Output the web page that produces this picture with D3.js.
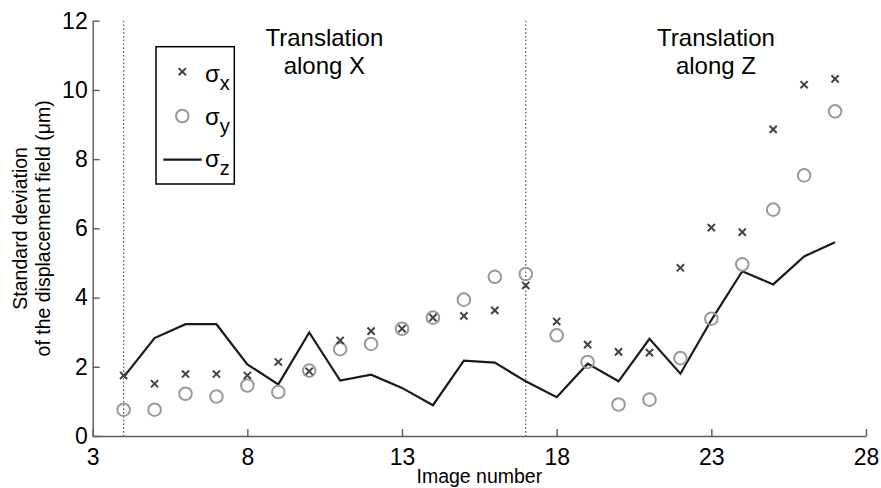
<!DOCTYPE html>
<html>
<head>
<meta charset="utf-8">
<script src="https://cdn.jsdelivr.net/npm/d3@7"></script>
<style>
  html, body { margin: 0; padding: 0; background: #fff; }
  svg { display: block; font-family: "Liberation Sans", Arial, sans-serif; }
</style>
</head>
<body>
<svg id="chart" width="881" height="488"></svg>
<script>
const images = [4,5,6,7,8,9,10,11,12,13,14,15,16,17,18,19,20,21,22,23,24,25,26,27];
const sigmaX = [1.75,1.51,1.79,1.79,1.75,2.14,1.87,2.76,3.03,3.10,3.42,3.47,3.63,4.35,3.31,2.64,2.43,2.41,4.86,6.02,5.89,8.86,10.15,10.32];
const sigmaY = [0.76,0.76,1.22,1.14,1.46,1.27,1.89,2.51,2.66,3.10,3.42,3.94,4.60,4.68,2.91,2.14,0.91,1.05,2.25,3.39,4.96,6.54,7.53,9.38];
const sigmaZ = [1.70,2.83,3.23,3.23,2.07,1.49,2.99,1.60,1.77,1.39,0.89,2.18,2.12,1.58,1.12,2.09,1.58,2.81,1.80,3.35,4.76,4.38,5.19,5.60];
const xTicks = [3,8,13,18,23,28];
const yTicks = [0,2,4,6,8,10,12];
const separators = [4,17];
const annotations = [
  {x: 10.49, lines: ["Translation", "along X"]},
  {x: 23.15, lines: ["Translation", "along Z"]}
];
const yLabelLines = ["Standard deviation", "of the displacement field (\u03bcm)"];
const xLabel = "Image number";

const svg = d3.select("#chart");
const x = d3.scaleLinear().domain([3, 28]).range([92.7, 866]);
const y = d3.scaleLinear().domain([0, 12]).range([436, 20.7]);
const axisColor = "#5a5a5a";

// Dotted separators
svg.selectAll("line.sep").data(separators).enter().append("line")
  .attr("x1", d => x(d)).attr("x2", d => x(d))
  .attr("y1", y(12)).attr("y2", y(0))
  .attr("stroke", "#555").attr("stroke-width", 1.2)
  .attr("stroke-dasharray", "1.6,2.2");

// Axes (ticks inward)
const xAxis = d3.axisBottom(x).tickValues(xTicks).tickSizeInner(-7).tickSizeOuter(0).tickPadding(13);
const yAxis = d3.axisLeft(y).tickValues(yTicks).tickSizeInner(-7).tickSizeOuter(0).tickPadding(12);

const gx = svg.append("g").attr("transform", `translate(0,${y(0)})`).call(xAxis);
const gy = svg.append("g").attr("transform", `translate(${x(3)},0)`).call(yAxis);
[gx, gy].forEach(g => {
  g.select(".domain").attr("stroke", axisColor).attr("stroke-width", 1.4);
  g.selectAll(".tick line").attr("stroke", axisColor).attr("stroke-width", 1.4);
  g.selectAll(".tick text").attr("fill", "#000").style("font-size", "23px")
    .style("font-family", "'Liberation Sans', Arial, sans-serif");
});
gy.selectAll(".tick text").attr("x", -5);

// sigma_z line
const lineGen = d3.line().x((d, i) => x(images[i])).y(d => y(d));
svg.append("path").datum(sigmaZ)
  .attr("d", lineGen).attr("fill", "none")
  .attr("stroke", "#1a1a1a").attr("stroke-width", 2.2).attr("stroke-linejoin", "miter");

// sigma_y circles
svg.selectAll("circle.sy").data(sigmaY).enter().append("circle")
  .attr("cx", (d, i) => x(images[i])).attr("cy", d => y(d))
  .attr("r", 6.3).attr("fill", "none")
  .attr("stroke", "#999").attr("stroke-width", 2);

// sigma_x crosses
const cs = 3.6;
const crossPath = (cx, cy) => `M${cx-cs},${cy-cs}L${cx+cs},${cy+cs}M${cx-cs},${cy+cs}L${cx+cs},${cy-cs}`;
svg.selectAll("path.sx").data(sigmaX).enter().append("path")
  .attr("d", (d, i) => crossPath(x(images[i]), y(d)))
  .attr("stroke", "#444").attr("stroke-width", 2).attr("fill", "none");

// Annotations
annotations.forEach(a => {
  const t = svg.append("text").attr("x", x(a.x)).attr("text-anchor", "middle")
    .style("font-size", "24px").attr("fill", "#000");
  a.lines.forEach((l, i) => {
    t.append("tspan").attr("x", x(a.x)).attr("y", 45.5 + i * 28).text(l);
  });
});

// Legend
const lg = svg.append("g");
lg.append("rect").attr("x", 156).attr("y", 46.7).attr("width", 78.3).attr("height", 137.3)
  .attr("fill", "#fff").attr("stroke", "#000").attr("stroke-width", 1.5);
lg.append("path").attr("d", crossPath(182.3, 71.7))
  .attr("stroke", "#444").attr("stroke-width", 2).attr("fill", "none");
lg.append("circle").attr("cx", 182.3).attr("cy", 116).attr("r", 6.3)
  .attr("fill", "none").attr("stroke", "#999").attr("stroke-width", 2);
lg.append("line").attr("x1", 163.3).attr("x2", 201.7).attr("y1", 159.7).attr("y2", 159.7)
  .attr("stroke", "#1a1a1a").attr("stroke-width", 2.2);
const legendEntries = [{sub: "x", y: 81.5}, {sub: "y", y: 125}, {sub: "z", y: 167}];
legendEntries.forEach(e => {
  const t = lg.append("text").attr("x", 205).attr("y", e.y).style("font-size", "24px").attr("fill", "#000");
  t.append("tspan").text("\u03c3");
  t.append("tspan").attr("dy", 8).style("font-size", "20px").text(e.sub);
});

// Axis labels
svg.append("text").attr("x", x(15.5)).attr("y", 483).attr("text-anchor", "middle")
  .style("font-size", "19.5px").attr("fill", "#000").text(xLabel);
const yl = svg.append("text").attr("transform", `translate(0,${(y(0)+y(12))/2}) rotate(-90)`)
  .attr("text-anchor", "middle").style("font-size", "19.5px").attr("fill", "#000");
yLabelLines.forEach((l, i) => {
  yl.append("tspan").attr("x", 0).attr("y", 27 + i * 22.5).text(l);
});
</script>
</body>
</html>
